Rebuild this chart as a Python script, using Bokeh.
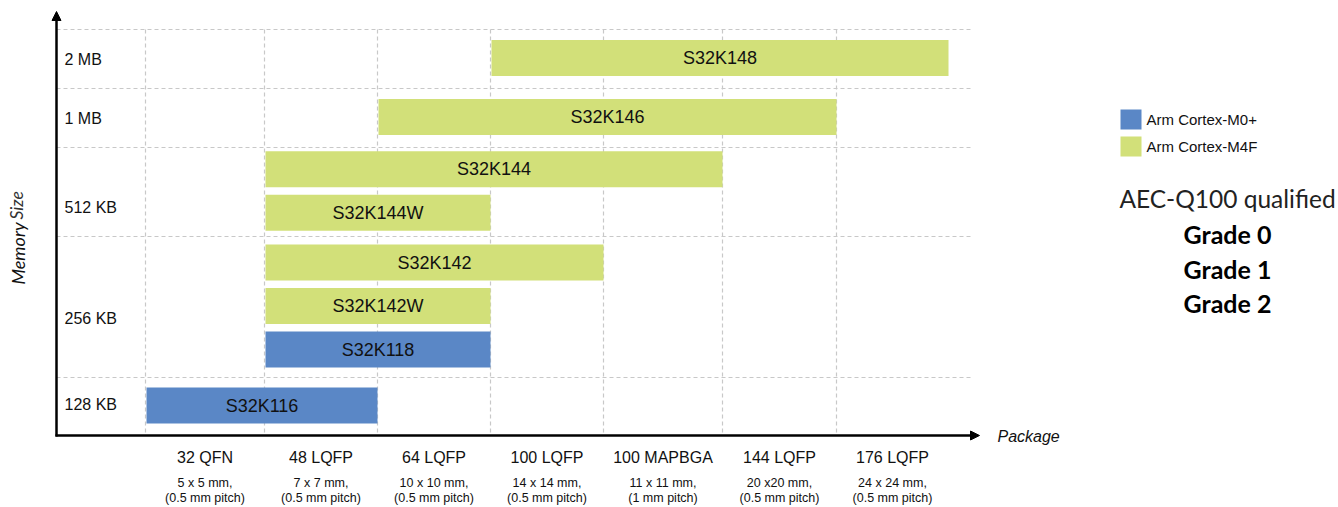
import math
from bokeh.plotting import figure
from bokeh.models import Range1d, Arrow, NormalHead, ColumnDataSource
from bokeh.core.properties import value
from bokeh.embed import file_html
from bokeh.resources import INLINE

# ---------------- data ----------------
packages = ["32 QFN", "48 LQFP", "64 LQFP", "100 LQFP", "100 MAPBGA", "144 LQFP", "176 LQFP"]
package_dims = ["5 x 5 mm,", "7 x 7 mm,", "10 x 10 mm,", "14 x 14 mm,", "11 x 11 mm,", "20 x20 mm,", "24 x 24 mm,"]
package_pitch = ["(0.5 mm pitch)", "(0.5 mm pitch)", "(0.5 mm pitch)", "(0.5 mm pitch)",
                 "(1 mm pitch)", "(0.5 mm pitch)", "(0.5 mm pitch)"]
memory_sizes = ["2 MB", "1 MB", "512 KB", "256 KB", "128 KB"]  # top to bottom

devices = ["S32K148", "S32K146", "S32K144", "S32K144W", "S32K142", "S32K142W", "S32K118", "S32K116"]
device_memory = ["2 MB", "1 MB", "512 KB", "512 KB", "256 KB", "256 KB", "256 KB", "128 KB"]
device_first_pkg = ["100 LQFP", "64 LQFP", "48 LQFP", "48 LQFP", "48 LQFP", "48 LQFP", "48 LQFP", "32 QFN"]
device_last_pkg = ["176 LQFP", "144 LQFP", "100 MAPBGA", "64 LQFP", "100 LQFP", "64 LQFP", "64 LQFP", "48 LQFP"]
device_core = ["Arm Cortex-M4F", "Arm Cortex-M4F", "Arm Cortex-M4F", "Arm Cortex-M4F",
               "Arm Cortex-M4F", "Arm Cortex-M4F", "Arm Cortex-M0+", "Arm Cortex-M0+"]
cores = ["Arm Cortex-M0+", "Arm Cortex-M4F"]
qualification = "AEC-Q100 qualified"
grades = ["Grade 0", "Grade 1", "Grade 2"]

# ---------------- layout (picture pixels) ----------------
W, H = 1338, 507
col_edges = [145, 264, 377, 490, 603, 722, 836, 948]
row_edges = [29, 88, 147, 236, 377, 435]
label_pos = [0.5, 0.5, 0.67, 0.58, 0.47]   # fraction of row height for memory labels
axis_x, axis_y = 56, 435
grid_right = 973
bar_h = 36
bar_gap = 7.5
core_colors = {"Arm Cortex-M0+": "#5A87C6", "Arm Cortex-M4F": "#D2E079"}
grid_color = "#c8c8c8"
sans = value("Liberation Sans")
avenir = value("Lato")

p = figure(width=W, height=H, x_range=Range1d(0, W), y_range=Range1d(H, 0),
           output_backend="svg", toolbar_location=None, min_border=0)
p.axis.visible = False
p.grid.visible = False
p.outline_line_color = None
p.background_fill_color = "white"
p.border_fill_color = "white"

# grid lines
hx0, hx1, hy = [], [], []
for y in row_edges[:-1]:
    hx0.append(axis_x); hx1.append(grid_right); hy.append(y)
p.segment(x0=hx0, y0=hy, x1=hx1, y1=hy, line_color=grid_color, line_width=1.2, line_dash="4 3")
vx = col_edges[:-1]
p.segment(x0=vx, y0=[row_edges[0]] * len(vx), x1=vx, y1=[axis_y] * len(vx),
          line_color=grid_color, line_width=1.2, line_dash="4 3")

# bars: stacked inside their memory row, the stack centred in the row
left, right, top, bottom, colors, cx, cy = [], [], [], [], [], [], []
order = []
for ri, mem in enumerate(memory_sizes):
    rtop, rbot = row_edges[ri], row_edges[ri + 1]
    in_row = [i for i, m in enumerate(device_memory) if m == mem]
    n = len(in_row)
    stack = n * bar_h + (n - 1) * bar_gap
    start = (rtop + rbot) / 2 - stack / 2 - 1
    for k, i in enumerate(in_row):
        t = start + k * (bar_h + bar_gap)
        l = col_edges[packages.index(device_first_pkg[i])] + 1
        r = col_edges[packages.index(device_last_pkg[i]) + 1]
        left.append(l); right.append(r); top.append(t); bottom.append(t + bar_h)
        colors.append(core_colors[device_core[i]])
        cx.append((l + r) / 2); cy.append(t + bar_h / 2)
        order.append(i)
src = ColumnDataSource(dict(left=left, right=right, top=top, bottom=bottom, color=colors,
                            cx=cx, cy=cy, name=[devices[i] for i in order]))
p.quad(left="left", right="right", top="top", bottom="bottom", fill_color="color",
       line_color=None, source=src)
p.text(x="cx", y="cy", text="name", source=src, text_align="center", text_baseline="middle",
       text_font=sans, text_font_size="18px", text_color="#111111")

# memory labels
ly = [row_edges[i] + label_pos[i] * (row_edges[i + 1] - row_edges[i]) for i in range(len(memory_sizes))]
p.text(x=[64] * len(memory_sizes), y=ly, text=memory_sizes, text_align="left",
       text_baseline="middle", text_font=sans, text_font_size="16px", text_color="#111111")

# package labels
pcx = [(col_edges[i] + col_edges[i + 1]) / 2 for i in range(len(packages))]
p.text(x=pcx, y=[457] * len(packages), text=packages, text_align="center", text_baseline="middle",
       text_font=sans, text_font_size="16px", text_color="#111111")
p.text(x=pcx, y=[482] * len(packages), text=package_dims, text_align="center", text_baseline="middle",
       text_font=sans, text_font_size="12.5px", text_color="#111111")
p.text(x=pcx, y=[497] * len(packages), text=package_pitch, text_align="center", text_baseline="middle",
       text_font=sans, text_font_size="12.5px", text_color="#111111")

# axes with arrows
p.add_layout(Arrow(end=NormalHead(size=9, fill_color="black", line_color="black"),
                   x_start=axis_x, y_start=axis_y + 1, x_end=axis_x, y_end=11,
                   line_width=2.5, line_color="black"))
p.add_layout(Arrow(end=NormalHead(size=9, fill_color="black", line_color="black"),
                   x_start=axis_x - 1, y_start=axis_y, x_end=979, y_end=axis_y,
                   line_width=2.5, line_color="black"))

# axis titles
p.text(x=[997], y=[436], text=["Package"], text_align="left", text_baseline="middle",
       text_font=sans, text_font_style="italic", text_font_size="16px", text_color="#111111")
p.text(x=[17], y=[284], text=["Memory"], angle=math.pi / 2, text_align="left", text_baseline="middle",
       text_font=avenir, text_font_style="italic", text_font_size="18px", text_color="#111111")
p.text(x=[16], y=[219], text=["Size"], angle=math.pi / 2, text_align="left", text_baseline="middle",
       text_font=avenir, text_font_style="italic", text_font_size="17.5px", text_color="#333333")

# legend
lg_y = [119, 146]
p.rect(x=[1130.5] * 2, y=lg_y, width=21, height=20, fill_color=[core_colors[c] for c in cores],
       line_color=None)
p.text(x=[1146] * 2, y=lg_y, text=cores, text_align="left", text_baseline="middle",
       text_font=sans, text_font_size="15px", text_color="#111111")

# qualification
p.text(x=[1227], y=[198], text=[qualification], text_align="center", text_baseline="middle",
       text_font=avenir, text_font_size="24.5px", text_color="#222222")
p.text(x=[1227] * 3, y=[233, 268, 302], text=grades, text_align="center", text_baseline="middle",
       text_font=avenir, text_font_style="bold", text_font_size="25px", text_color="#000000")

open("out.html", "w").write(file_html(p, INLINE))
